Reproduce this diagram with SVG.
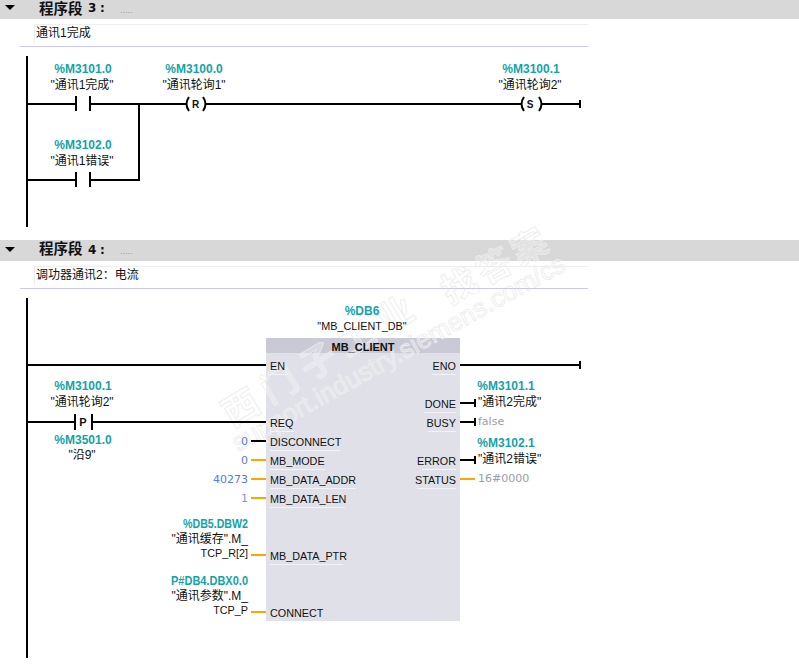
<svg xmlns="http://www.w3.org/2000/svg" width="799" height="672" viewBox="0 0 799 672">
<style>
text{font-family:"Liberation Sans","Noto Sans CJK SC",sans-serif;font-size:12px;fill:#111}
.tag,.tagr{font-family:"Liberation Sans",sans-serif;font-size:12px;font-weight:bold;fill:#14a3a8}
.tag{text-anchor:middle}
.tagr{text-anchor:end}
.n{text-anchor:middle}
.r{text-anchor:end}
.pin{font-size:10.800px}
.t{font-size:10.800px;text-anchor:end}
.v{fill:#5a7bd8;text-anchor:end;font-family:"DejaVu Sans",sans-serif;font-size:11px}
.g{fill:#98a0a8;font-family:"DejaVu Sans",sans-serif;font-size:11px}
.h{font-family:"Liberation Sans","Noto Sans CJK SC",sans-serif;font-weight:bold;font-size:14.500px}
.hn{font-family:"DejaVu Sans",sans-serif;font-weight:bold;font-size:12px}
.d{fill:#999;font-size:9px}
.k{stroke:#000;stroke-width:2;fill:none}
.o{stroke:#ffa500;stroke-width:2;fill:none}
.u{stroke:#f4f4f8;stroke-width:1;fill:none}
.rule{stroke:#c9c8e6;stroke-width:1}
.cb{stroke:#eeeeee;stroke-width:1;fill:none}
.wm{font-family:"Liberation Sans","Noto Sans CJK SC",sans-serif;fill:#ffffff;fill-opacity:.3;stroke:#ececec;stroke-width:.8}
</style>
<rect width="799" height="672" fill="#fff"/>
<g id="bands">
<rect x="0" y="0" width="799" height="19" fill="#d8d8d8"/>
<rect x="0" y="240" width="799" height="21" fill="#d8d8d8"/>
</g>
<g id="block-MB_CLIENT-body">
<rect x="266" y="338" width="194" height="283" fill="#e0e1e8"/>
<rect x="266" y="338" width="194" height="15" fill="#c9cad6"/>
</g>
<g id="watermark">
<text class="wm" transform="translate(232 428) rotate(-31)" style="font-size:36px;font-weight:bold;letter-spacing:9px">西门子工业</text>
<text class="wm" transform="translate(238 452) rotate(-29)" style="font-size:26px">support.industry.siemens.com/cs</text>
<text class="wm" transform="translate(450 305) rotate(-29)" style="font-size:35px;font-weight:bold;letter-spacing:5px">找答案</text>
</g>
<g id="segment3-header">
<path d="M5 5h10l-5 5z" fill="#000"/>
<text class="h" x="39" y="13.500">程序段</text>
<text class="hn" x="88" y="12">3</text>
<text class="hn" x="100" y="12">:</text>
<text class="d" x="120" y="13">.....</text>
</g>
<g id="segment3-comment">
<path class="cb" d="M34.500 43V24.500H588"/>
<line class="rule" x1="20" y1="46.500" x2="588" y2="46.500"/>
<text x="36" y="37">通讯1完成</text>
</g>
<g id="segment4-header">
<path d="M5 247h10l-5 5z" fill="#000"/>
<text class="h" x="39" y="254">程序段</text>
<text class="hn" x="88" y="254">4</text>
<text class="hn" x="100" y="254">:</text>
<text class="d" x="120" y="254">.....</text>
</g>
<g id="segment4-comment">
<path class="cb" d="M34.500 285V266.500H588"/>
<line class="rule" x1="20" y1="288.500" x2="588" y2="288.500"/>
<text x="36" y="279">调功器通讯2：电流</text>
</g>
<g id="connectors">
<path class="k" d="M27 56V227"/>
<path class="k" d="M27 104H76M90 104H186M206 104H521M542 104H580M580 100V108"/>
<path class="k" d="M139 104V181M27 180H76M90 180H139"/>
<path class="k" d="M27 298V658"/>
<path class="k" d="M27 365H266M460 365H580M580 361V369"/>
<path class="k" d="M27 422H75M92 422H266"/>
<path class="k" d="M251 441H266"/>
<path class="o" d="M251 460H266M251 479H266M251 498H266M251 555H266M251 612H266M460 479H475"/>
<path class="k" d="M460 403H475M475 399V407M460 422H475M475 418V426M460 460H475M475 456V464"/>
</g>
<g id="contact-M3101-0">
<text class="tag" x="83" y="73">%M3101.0</text>
<text class="n" x="82" y="89">"通讯1完成"</text>
<path class="k" d="M76 96V111M90 96V111"/>
</g>
<g id="contact-M3102-0">
<text class="tag" x="83" y="149">%M3102.0</text>
<text class="n" x="82" y="165">"通讯1错误"</text>
<path class="k" d="M76 172V187M90 172V187"/>
</g>
<g id="coil-R">
<text class="tag" x="194" y="73">%M3100.0</text>
<text class="n" x="194" y="89">"通讯轮询1"</text>
<path class="k" d="M189 97Q184 104 189 111M203 97Q208 104 203 111"/>
<text class="n" x="195.500" y="108" style="font-size:10px;font-weight:bold">R</text>
</g>
<g id="coil-S">
<text class="tag" x="531" y="73">%M3100.1</text>
<text class="n" x="530" y="89">"通讯轮询2"</text>
<path class="k" d="M524 97Q519 104 524 111M539 97Q544 104 539 111"/>
<text class="n" x="530" y="108" style="font-size:10px;font-weight:bold">S</text>
</g>
<g id="edge-P">
<text class="tag" x="83" y="390">%M3100.1</text>
<text class="n" x="82" y="406">"通讯轮询2"</text>
<path class="k" d="M75 414V430M92 414V430"/>
<text class="n" x="83" y="426" style="font-size:11px;font-weight:bold">P</text>
<text class="tag" x="83" y="444">%M3501.0</text>
<text class="n" x="82" y="459">"沿9"</text>
</g>
<g id="block-MB_CLIENT">
<text class="tag" x="362" y="315">%DB6</text>
<text class="n" x="362" y="330" style="font-size:10.800px">"MB_CLIENT_DB"</text>
<text class="n" x="363" y="351" style="font-weight:bold;font-size:11px">MB_CLIENT</text>
<text class="pin" x="270" y="370">EN</text>
<text class="pin" x="270" y="427">REQ</text>
<text class="pin" x="270" y="446">DISCONNECT</text>
<text class="pin" x="270" y="465">MB_MODE</text>
<text class="pin" x="270" y="484">MB_DATA_ADDR</text>
<text class="pin" x="270" y="503">MB_DATA_LEN</text>
<text class="pin" x="270" y="560">MB_DATA_PTR</text>
<text class="pin" x="270" y="617">CONNECT</text>
<text class="t" x="456" y="370">ENO</text>
<text class="t" x="456" y="408">DONE</text>
<text class="t" x="456" y="427">BUSY</text>
<text class="t" x="456" y="465">ERROR</text>
<text class="t" x="456" y="484">STATUS</text>
<path class="u" d="M270 374.500H288M270 431.500H294M270 450.500H340M270 469.500H325M270 488.500H356M270 507.500H345M270 564.500H343M456 374.500H432M456 412.500H424M456 431.500H428M456 469.500H422M456 488.500H417"/>
</g>
<g id="block-inputs">
<text class="v" x="248" y="445">0</text>
<text class="v" x="248" y="464">0</text>
<text class="v" x="248" y="483">40273</text>
<text class="v" x="248" y="502" style="fill:#8a8ee0">1</text>
<text class="tagr" x="248" y="528" textLength="65" lengthAdjust="spacingAndGlyphs">%DB5.DBW2</text>
<text class="r" x="248" y="543">"通讯缓存".M_</text>
<text class="t" x="248" y="557">TCP_R[2]</text>
<text class="tagr" x="248" y="585" textLength="77" lengthAdjust="spacingAndGlyphs">P#DB4.DBX0.0</text>
<text class="r" x="248" y="600">"通讯参数".M_</text>
<text class="t" x="248" y="614">TCP_P</text>
</g>
<g id="block-outputs">
<text class="tag" x="506" y="390">%M3101.1</text>
<text x="478" y="406">"通讯2完成"</text>
<text class="g" x="478" y="425">false</text>
<text class="tag" x="506" y="447">%M3102.1</text>
<text x="478" y="463">"通讯2错误"</text>
<text class="g" x="478" y="482">16#0000</text>
</g>
</svg>
